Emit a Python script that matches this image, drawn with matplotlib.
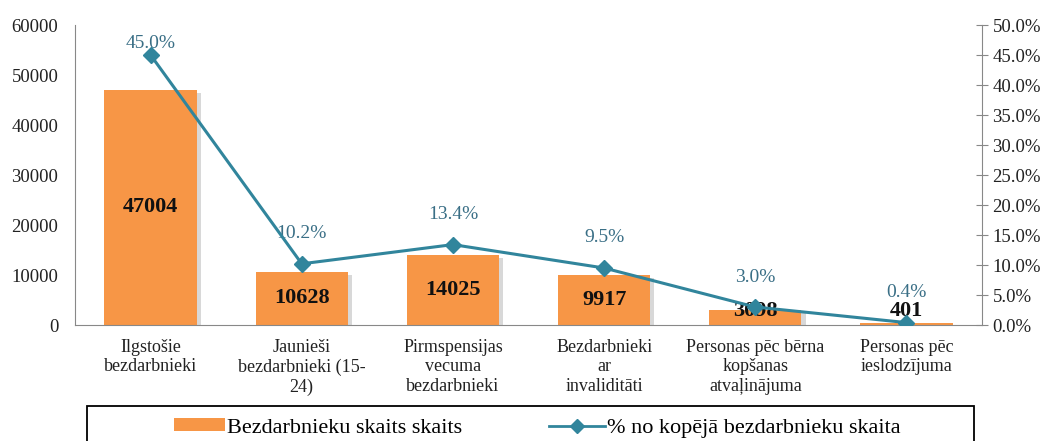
import matplotlib.pyplot as plt
import matplotlib.patheffects as pe
from matplotlib.ticker import FuncFormatter, MultipleLocator
from matplotlib.lines import Line2D
from matplotlib.patches import Patch, Rectangle

categories = [
    "Ilgstošie\nbezdarbnieki",
    "Jaunieši\nbezdarbnieki (15-\n24)",
    "Pirmspensijas\nvecuma\nbezdarbnieki",
    "Bezdarbnieki\nar\ninvaliditāti",
    "Personas pēc bērna\nkopšanas\natvaļinājuma",
    "Personas pēc\nieslodzījuma",
]
counts = [47004, 10628, 14025, 9917, 3098, 401]
shares = [45.0, 10.2, 13.4, 9.5, 3.0, 0.4]

BAR_COLOR = "#F79646"
LINE_COLOR = "#31859C"
TEXT_COLOR = "#222222"
plt.rcParams["font.family"] = ["Liberation Serif", "DejaVu Serif"]

W, H = 1048, 441
fig = plt.figure(figsize=(W / 100, H / 100), dpi=100)
ax = fig.add_axes([75 / W, 116 / H, 907 / W, 300 / H])
ax2 = ax.twinx()

x = list(range(len(categories)))

# bars with a soft shadow
ax.bar(x, counts, width=0.61, color=BAR_COLOR, zorder=2,
       path_effects=[pe.SimplePatchShadow(offset=(3, -2), shadow_rgbFace="#aaaaaa", alpha=0.45),
                     pe.Normal()])
for xi, v in zip(x, counts):
    # small bars get their label lifted just above the baseline
    ax.text(xi, max(v / 2, 2900), str(v), ha="center", va="center",
            fontsize=16, fontweight="bold", color="#111111", zorder=5)

ax.set_xlim(-0.5, len(categories) - 0.5)
ax.set_ylim(0, 60000)
ax.yaxis.set_major_locator(MultipleLocator(10000))
ax.tick_params(axis="y", length=0, labelsize=13.5, pad=12, colors=TEXT_COLOR)
ax.set_xticks(x)
ax.set_xticklabels(categories, fontsize=13, linespacing=1.2)
ax.tick_params(axis="x", length=0, pad=10, colors=TEXT_COLOR)
for s in ["top", "right"]:
    ax.spines[s].set_visible(False)
ax.spines["left"].set_color("#888888")
ax.spines["bottom"].set_color("#888888")

# percentage line
ax2.plot(x, shares, color=LINE_COLOR, lw=2.2, marker="D", markersize=8, zorder=4)
for xi, p in zip(x, shares):
    ax2.text(xi, min(p + 5.0, 47.0), f"{p:.1f}%", ha="center", va="center",
             fontsize=14, color="#3A6F86")
ax2.set_ylim(0, 50)
ax2.yaxis.set_major_locator(MultipleLocator(5))
ax2.yaxis.set_major_formatter(FuncFormatter(lambda v, _: f"{v:.1f}%"))
ax2.tick_params(axis="y", direction="inout", length=9, color="#888888",
                labelsize=13.5, labelcolor=TEXT_COLOR, pad=3)
for s in ["top", "left", "bottom"]:
    ax2.spines[s].set_visible(False)
ax2.spines["right"].set_color("#888888")

# legend: frame runs off the bottom edge like the reference
fig.add_artist(Rectangle((87 / W, -6 / H), 887 / W, 41 / H, transform=fig.transFigure,
                         fill=False, edgecolor="black", linewidth=1.3, clip_on=False))
fig.legend([Patch(facecolor=BAR_COLOR, edgecolor="none")], ["Bezdarbnieku skaits skaits"],
           loc="center left", bbox_to_anchor=(174 / W, 13 / H), fontsize=16,
           frameon=False, handlelength=2.3, handleheight=0.5, handletextpad=0.1,
           borderpad=0, borderaxespad=0)
fig.legend([Line2D([0], [0], color=LINE_COLOR, lw=2, marker="D", markersize=7)],
           ["% no kopējā bezdarbnieku skaita"],
           loc="center left", bbox_to_anchor=(549 / W, 13 / H), fontsize=16,
           frameon=False, handlelength=2.5, handletextpad=0.1,
           borderpad=0, borderaxespad=0)

fig.savefig("out.png", dpi=100)
